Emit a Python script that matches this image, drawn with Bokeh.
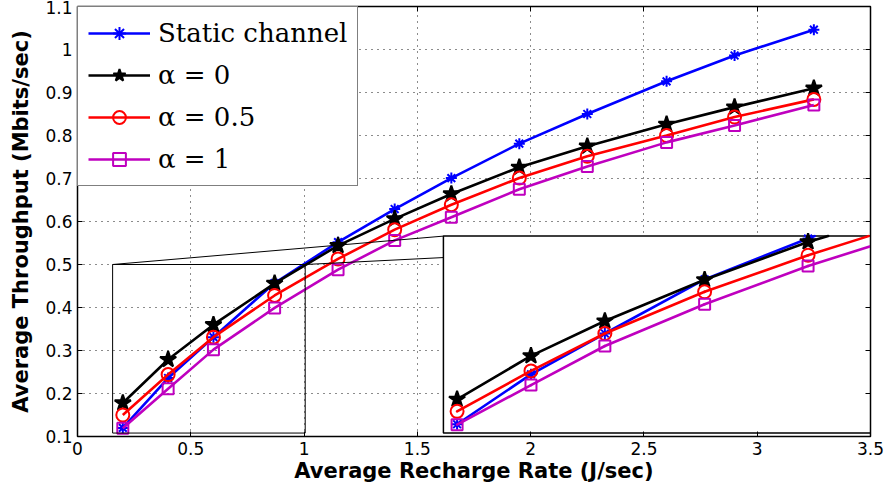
import numpy as np
from bokeh.plotting import figure
from bokeh.models import (Range1d, LinearAxis, Legend, LegendItem, FixedTicker,
                          NumeralTickFormatter, CustomJSTickFormatter)
from bokeh.embed import file_html
from bokeh.resources import INLINE

# ---------------- data ----------------
rate = [0.2, 0.4, 0.6, 0.87, 1.15, 1.4, 1.65, 1.95, 2.25, 2.6, 2.9, 3.25]
static_channel = [0.120, 0.236, 0.331, 0.457, 0.552, 0.629, 0.701, 0.781, 0.850, 0.926, 0.986, 1.046]
alpha_0 = [0.178, 0.279, 0.360, 0.456, 0.544, 0.606, 0.664, 0.726, 0.775, 0.826, 0.866, 0.910]
alpha_05 = [0.150, 0.244, 0.331, 0.428, 0.513, 0.581, 0.639, 0.701, 0.752, 0.800, 0.843, 0.884]
alpha_1 = [0.119, 0.211, 0.302, 0.399, 0.488, 0.556, 0.610, 0.675, 0.728, 0.784, 0.823, 0.871]

series_labels = ["Static channel", "α = 0", "α = 0.5", "α = 1"]
x_ticks = [0, 0.5, 1, 1.5, 2, 2.5, 3, 3.5]
y_ticks = [0.1, 0.2, 0.3, 0.4, 0.5, 0.6, 0.7, 0.8, 0.9, 1.0, 1.1]

# ---------------- layout constants ----------------
X_RANGE = (0, 3.5)
Y_RANGE = (0.1, 1.1)
ZOOM_BOX = dict(left=0.155, right=1.005, bottom=0.108, top=0.5)       # main coords
INSET_BOX = dict(left=1.615, right=3.5, bottom=0.108, top=0.566)      # main coords
INSET_VIEW = dict(left=0.163, right=1.319, bottom=0.0995, top=0.5575)  # inset data window

styles = [
    dict(color="#0000FF", marker="asterisk", size=11, fill=None),
    dict(color="#000000", marker="star", size=17, fill="#000000"),
    dict(color="#FF0000", marker="circle", size=13, fill=None),
    dict(color="#BF00BF", marker="square", size=11, fill=None),
]
series = [static_channel, alpha_0, alpha_05, alpha_1]

p = figure(width=887, height=495, x_range=Range1d(*X_RANGE), y_range=Range1d(*Y_RANGE),
           output_backend="svg", toolbar_location=None,
           min_border_left=77, min_border_right=17, min_border_top=6, min_border_bottom=59,
           background_fill_color="white", border_fill_color="white")

p.outline_line_color = "black"
p.outline_line_width = 1.5

# axes
for ax, ticks in ((p.xaxis[0], x_ticks), (p.yaxis[0], y_ticks)):
    ax.ticker = FixedTicker(ticks=ticks)
    ax.formatter = NumeralTickFormatter(format="0.[0]")
    ax.major_tick_in = 5
    ax.major_tick_out = 0
    ax.minor_tick_in = 0
    ax.minor_tick_out = 0
    ax.axis_line_color = "black"
    ax.major_tick_line_color = "black"
    ax.major_label_text_font = "DejaVu Sans"
    ax.major_label_text_font_size = "17px"
    ax.major_label_text_color = "black"
    ax.axis_label_text_font = "DejaVu Sans"
    ax.axis_label_text_font_style = "bold"
    ax.axis_label_text_font_size = "21px"
    ax.axis_label_text_color = "black"

p.xaxis.axis_label = "Average Recharge Rate (J/sec)"
p.yaxis.axis_label = "Average Throughput (Mbits/sec)"
p.xaxis.major_label_standoff = 5
p.xaxis.axis_label_standoff = 1
p.yaxis.major_label_standoff = 5
p.yaxis.axis_label_standoff = 9

for loc, ticks in (("right", y_ticks), ("above", x_ticks)):
    ax = LinearAxis(ticker=FixedTicker(ticks=ticks),
                    formatter=CustomJSTickFormatter(code="return ''"),
                    major_label_text_font_size="1px",
                    major_label_standoff=0, major_tick_in=5, major_tick_out=0,
                    minor_tick_in=0, minor_tick_out=0, axis_line_color="black")
    p.add_layout(ax, loc)

# grid
for g in (p.xgrid[0], p.ygrid[0]):
    g.grid_line_color = "black"
    g.grid_line_dash = "1 5"
    g.grid_line_width = 1
    g.grid_line_alpha = 0.9
p.xgrid[0].ticker = FixedTicker(ticks=x_ticks)
p.ygrid[0].ticker = FixedTicker(ticks=y_ticks)

# main series
legend_items = []
for label, ys, st in zip(series_labels, series, styles):
    ln = p.line(rate, ys, line_color=st["color"], line_width=2.6)
    sc = p.scatter(rate, ys, marker=st["marker"], size=st["size"], line_color=st["color"],
                   line_width=2, fill_color=st["fill"], fill_alpha=1 if st["fill"] else 0)
    legend_items.append(LegendItem(label=label, renderers=[ln, sc]))

# zoom box and connectors
p.quad(left=ZOOM_BOX["left"], right=ZOOM_BOX["right"], bottom=ZOOM_BOX["bottom"],
       top=ZOOM_BOX["top"], fill_alpha=0, line_color="black", line_width=1)
p.segment(x0=[ZOOM_BOX["left"], ZOOM_BOX["right"]], y0=[ZOOM_BOX["top"], ZOOM_BOX["top"]],
          x1=[INSET_BOX["left"], INSET_BOX["right"]], y1=[INSET_BOX["top"], INSET_BOX["top"]],
          line_color="black", line_width=1)

# inset background
p.quad(left=INSET_BOX["left"], right=INSET_BOX["right"], bottom=INSET_BOX["bottom"],
       top=INSET_BOX["top"], fill_color="white", line_color="black", line_width=1.5)

# inset ranges: map INSET_VIEW onto INSET_BOX
def extra_range(v0, v1, b0, b1, r0, r1):
    s = (v1 - v0) / (b1 - b0)
    return Range1d(v0 - (b0 - r0) * s, v0 + (r1 - b0) * s)

p.extra_x_ranges = {"ix": extra_range(INSET_VIEW["left"], INSET_VIEW["right"],
                                      INSET_BOX["left"], INSET_BOX["right"], *X_RANGE)}
p.extra_y_ranges = {"iy": extra_range(INSET_VIEW["bottom"], INSET_VIEW["top"],
                                      INSET_BOX["bottom"], INSET_BOX["top"], *Y_RANGE)}


def clip_segment(x0, y0, x1, y1, xmin, xmax, ymin, ymax):
    dx, dy = x1 - x0, y1 - y0
    t0, t1 = 0.0, 1.0
    for pk, qk in ((-dx, x0 - xmin), (dx, xmax - x0), (-dy, y0 - ymin), (dy, ymax - y0)):
        if pk == 0:
            if qk < 0:
                return None
        else:
            r = qk / pk
            if pk < 0:
                t0 = max(t0, r)
            else:
                t1 = min(t1, r)
    if t0 > t1:
        return None
    return [x0 + t0 * dx, x0 + t1 * dx], [y0 + t0 * dy, y0 + t1 * dy]


v = INSET_VIEW
for ys, st in zip(series, styles):
    xs_l, ys_l = [], []
    for i in range(len(rate) - 1):
        c = clip_segment(rate[i], ys[i], rate[i + 1], ys[i + 1],
                         v["left"], v["right"], v["bottom"], v["top"])
        if c is not None:
            xs_l.append(c[0])
            ys_l.append(c[1])
    p.multi_line(xs_l, ys_l, line_color=st["color"], line_width=2.6, line_cap="round",
                 x_range_name="ix", y_range_name="iy")
    inside = [(a, b) for a, b in zip(rate, ys)
              if v["left"] <= a <= v["right"] and v["bottom"] <= b <= v["top"]]
    p.scatter([a for a, _ in inside], [b for _, b in inside], marker=st["marker"],
              size=st["size"], line_color=st["color"], line_width=2, fill_color=st["fill"],
              fill_alpha=1 if st["fill"] else 0, x_range_name="ix", y_range_name="iy")

legend = Legend(items=legend_items, location="top_left", margin=0, padding=10, spacing=10,
                glyph_width=62, glyph_height=32, label_height=32, label_standoff=8,
                label_text_font="DejaVu Serif", label_text_font_size="26px",
                label_text_color="black", border_line_color="black", border_line_width=1.5,
                background_fill_color="white", background_fill_alpha=1)
p.add_layout(legend)

open("out.html", "w").write(file_html(p, INLINE))
